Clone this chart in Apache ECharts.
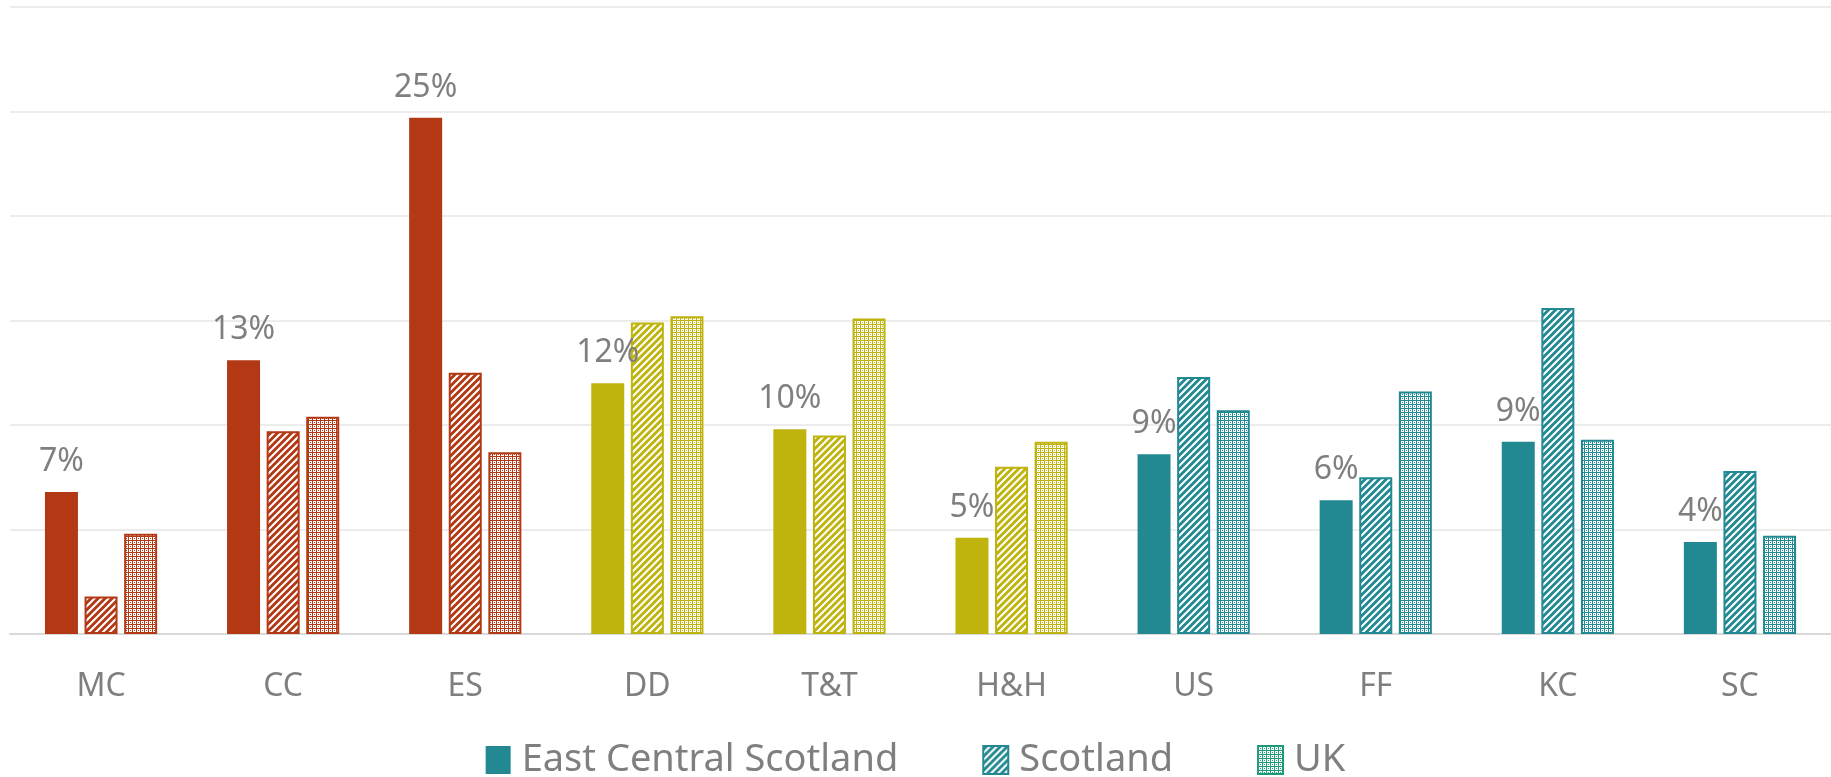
<!DOCTYPE html>
<html>
<head>
<meta charset="utf-8">
<script src="https://cdn.jsdelivr.net/npm/echarts@6/dist/echarts.min.js"></script>
<style>
  html, body { margin: 0; padding: 0; background: #fff; }
  #main { width: 1831px; height: 777px; }
</style>
</head>
<body>
<div id="main"></div>
<script>
var categories = ['MC', 'CC', 'ES', 'DD', 'T&T', 'H&H', 'US', 'FF', 'KC', 'SC'];
var groupOf = ['rust', 'rust', 'rust', 'olive', 'olive', 'olive', 'teal', 'teal', 'teal', 'teal'];
var seriesNames = ['East Central Scotland', 'Scotland', 'UK'];
var ecsValues = [6.8, 13.1, 24.7, 12.0, 9.8, 4.6, 8.6, 6.4, 9.2, 4.4];
var scotlandValues = [1.8, 9.7, 12.5, 14.9, 9.5, 8.0, 12.3, 7.5, 15.6, 7.8];
var ukValues = [4.8, 10.4, 8.7, 15.2, 15.1, 9.2, 10.7, 11.6, 9.3, 4.7];

var colors = { rust: '#b33814', olive: '#bfb30d', teal: '#228891' };
var legendUkColor = '#1f9a78';
var textColor = '#7f7f7f';
var font = 'Noto Sans';

// diagonal "////" hatch, white stripes on the bar colour
function hatch(color) {
  var c = document.createElement('canvas');
  c.width = c.height = 7;
  var g = c.getContext('2d');
  g.fillStyle = color;
  g.fillRect(0, 0, 7, 7);
  g.strokeStyle = '#fff';
  g.lineWidth = 2.1;
  g.beginPath();
  g.moveTo(-1, 8); g.lineTo(8, -1);
  g.moveTo(-1, 1); g.lineTo(1, -1);
  g.moveTo(6, 8); g.lineTo(8, 6);
  g.stroke();
  return { image: c, repeat: 'repeat' };
}

// small dotted grid, mostly white
function dots(color) {
  var c = document.createElement('canvas');
  c.width = c.height = 4;
  var g = c.getContext('2d');
  g.fillStyle = '#fff';
  g.fillRect(0, 0, 4, 4);
  g.fillStyle = color;
  g.fillRect(0, 0, 1, 4);
  g.fillRect(1, 0, 3, 1);
  g.fillRect(2, 2, 1, 1);
  return { image: c, repeat: 'repeat' };
}

function solidData(values) {
  return values.map(function (v, i) {
    return { value: v, itemStyle: { color: colors[groupOf[i]] } };
  });
}
function patternData(values, maker) {
  return values.map(function (v, i) {
    var col = colors[groupOf[i]];
    return { value: v, itemStyle: { color: maker(col), borderColor: col, borderWidth: 2 } };
  });
}

var chart = echarts.init(document.getElementById('main'));
chart.setOption({
  animation: false,
  textStyle: { fontFamily: font },
  grid: { left: 10, right: 0, top: 7, bottom: 143 },
  legend: {
    top: 741,
    left: 'center',
    padding: 0,
    icon: 'rect',
    itemWidth: 25,
    itemHeight: 28,
    itemGap: 84,
    textStyle: { fontSize: 38, color: textColor, fontFamily: font, padding: [0, 0, 0, 6] },
    data: [
      { name: seriesNames[0], itemStyle: { color: colors.teal } },
      { name: seriesNames[1], itemStyle: { color: hatch(colors.teal), borderColor: colors.teal, borderWidth: 2 } },
      { name: seriesNames[2], itemStyle: { color: dots(legendUkColor), borderColor: legendUkColor, borderWidth: 2 } }
    ]
  },
  xAxis: {
    type: 'category',
    data: categories,
    axisTick: { show: false },
    axisLine: { lineStyle: { color: '#d9d9d9', width: 2 } },
    axisLabel: { fontSize: 32, color: textColor, margin: 37, fontFamily: font }
  },
  yAxis: {
    type: 'value',
    min: 0,
    max: 30,
    interval: 5,
    axisLabel: { show: false },
    axisLine: { show: false },
    axisTick: { show: false },
    splitLine: { lineStyle: { color: '#ececec', width: 2 } }
  },
  series: [
    {
      name: seriesNames[0],
      type: 'bar',
      barWidth: 33,
      barGap: '20%',
      itemStyle: { color: colors.teal },
      data: solidData(ecsValues),
      label: {
        show: true,
        position: 'top',
        distance: 14,
        fontSize: 32,
        color: textColor,
        fontFamily: font,
        formatter: function (p) { return Math.round(p.value) + '%'; }
      }
    },
    {
      name: seriesNames[1],
      type: 'bar',
      barWidth: 33,
      barGap: '20%',
      itemStyle: { color: hatch(colors.teal), borderColor: colors.teal, borderWidth: 2 },
      data: patternData(scotlandValues, hatch)
    },
    {
      name: seriesNames[2],
      type: 'bar',
      barWidth: 33,
      barGap: '20%',
      itemStyle: { color: dots(legendUkColor), borderColor: legendUkColor, borderWidth: 2 },
      data: patternData(ukValues, dots)
    }
  ]
});
</script>
</body>
</html>
